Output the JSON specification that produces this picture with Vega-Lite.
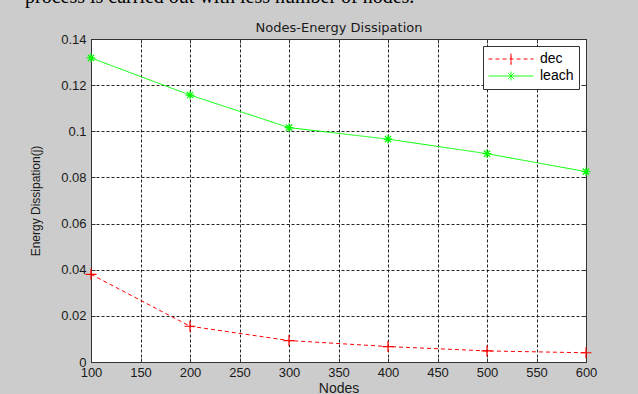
{
  "$schema": "https://vega.github.io/schema/vega-lite/v6.json",
  "autosize": "none",
  "width": 495,
  "height": 323,
  "padding": {"left": 91, "top": 39, "right": 52, "bottom": 32},
  "background": "#cccccc",
  "title": {
    "text": "process is carried out with less number of nodes.",
    "font": "Liberation Serif",
    "fontSize": 20,
    "fontWeight": "normal",
    "color": "#000000",
    "anchor": "start",
    "frame": "group",
    "baseline": "alphabetic",
    "dx": -66,
    "offset": -1
  },
  "config": {
    "view": {"fill": "#ffffff", "stroke": "#333333", "strokeWidth": 1},
    "axis": {
      "labelFont": "Liberation Sans",
      "labelFontSize": 13,
      "labelColor": "#1a1a1a",
      "titleFont": "Liberation Sans",
      "titleColor": "#1a1a1a",
      "titleFontWeight": "normal",
      "domainColor": "#333333",
      "domainWidth": 1,
      "tickColor": "#333333",
      "tickWidth": 1
    }
  },
  "data": {
    "values": [
      {"series": "dec", "n": 100, "e": 0.038},
      {"series": "dec", "n": 200, "e": 0.0155},
      {"series": "dec", "n": 300, "e": 0.0093},
      {"series": "dec", "n": 400, "e": 0.0067},
      {"series": "dec", "n": 500, "e": 0.0048},
      {"series": "dec", "n": 600, "e": 0.004},
      {"series": "leach", "n": 100, "e": 0.1318},
      {"series": "leach", "n": 200, "e": 0.1157},
      {"series": "leach", "n": 300, "e": 0.1016},
      {"series": "leach", "n": 400, "e": 0.0966},
      {"series": "leach", "n": 500, "e": 0.0903},
      {"series": "leach", "n": 600, "e": 0.0825}
    ]
  },
  "resolve": {
    "scale": {"color": "independent", "shape": "independent", "strokeDash": "independent"},
    "axis": {"x": "independent", "y": "independent"}
  },
  "layer": [
    {
      "encoding": {
        "x": {
          "field": "n", "type": "quantitative",
          "scale": {"domain": [100, 600], "nice": false, "zero": false},
          "axis": {
            "orient": "bottom",
            "values": [100, 150, 200, 250, 300, 350, 400, 450, 500, 550, 600],
            "title": "Nodes",
            "titleFontSize": 14,
            "titlePadding": 2,
            "tickSize": -4,
            "labelPadding": 8,
            "labelFlush": false,
            "grid": true,
            "gridColor": "#000000",
            "gridOpacity": 0.85,
            "gridDash": [3, 2],
            "gridWidth": 1
          }
        },
        "y": {
          "field": "e", "type": "quantitative",
          "scale": {"domain": [0, 0.14], "nice": false},
          "axis": {
            "orient": "left",
            "values": [0, 0.02, 0.04, 0.06, 0.08, 0.1, 0.12, 0.14],
            "format": "~g",
            "title": "Energy Dissipation(j)",
            "titleFontSize": 12,
            "titlePadding": 18,
            "tickSize": -4,
            "labelPadding": 9,
            "labelFlush": false,
            "grid": true,
            "gridColor": "#000000",
            "gridOpacity": 0.85,
            "gridDash": [3, 2],
            "gridWidth": 1
          }
        }
      },
      "layer": [
        {
          "mark": {"type": "line", "strokeWidth": 1},
          "encoding": {
            "color": {
              "field": "series", "type": "nominal",
              "scale": {"domain": ["dec", "leach"], "range": ["#ff0000", "#00ff00"]},
              "legend": null
            },
            "strokeDash": {
              "field": "series", "type": "nominal",
              "scale": {"domain": ["dec", "leach"], "range": [[4, 3], [1, 0]]},
              "legend": null
            }
          }
        },
        {
          "mark": {"type": "point", "filled": false, "strokeWidth": 1.2, "size": 121, "opacity": 1},
          "encoding": {
            "color": {
              "field": "series", "type": "nominal",
              "scale": {"domain": ["dec", "leach"], "range": ["#ff0000", "#00ff00"]},
              "legend": null
            },
            "shape": {
              "field": "series", "type": "nominal",
              "scale": {
                "domain": ["dec", "leach"],
                "range": [
                  "M-1,0L1,0M0,-1L0,1",
                  "M-0.8,0L0.8,0M0,-0.8L0,0.8M-0.57,-0.57L0.57,0.57M-0.57,0.57L0.57,-0.57"
                ]
              },
              "legend": null
            }
          }
        }
      ]
    },
    {
      "transform": [{"filter": "false"}],
      "mark": {"type": "point", "filled": false, "strokeWidth": 1, "size": 2025, "opacity": 1},
      "encoding": {
        "x": {
          "field": "n", "type": "quantitative",
          "scale": {"domain": [100, 600], "nice": false, "zero": false},
          "axis": {
            "orient": "top",
            "values": [100, 150, 200, 250, 300, 350, 400, 450, 500, 550, 600],
            "labels": false,
            "tickSize": -4,
            "grid": false,
            "title": "Nodes-Energy Dissipation",
            "titleFont": "DejaVu Sans",
            "titleFontSize": 13,
            "titlePadding": 4
          }
        },
        "y": {
          "field": "e", "type": "quantitative",
          "scale": {"domain": [0, 0.14], "nice": false},
          "axis": {
            "orient": "right",
            "values": [0, 0.02, 0.04, 0.06, 0.08, 0.1, 0.12, 0.14],
            "labels": false,
            "tickSize": -4,
            "grid": false,
            "title": null
          }
        },
        "color": {
          "field": "series", "type": "nominal",
          "scale": {"domain": ["dec", "leach"], "range": ["#ff0000", "#00ff00"]},
          "legend": {
            "title": null,
            "orient": "top-right",
            "offset": 7,
            "fillColor": "#ffffff",
            "strokeColor": "#333333",
            "padding": 5,
            "clipHeight": 16,
            "symbolSize": 2025,
            "symbolStrokeWidth": 1,
            "labelFont": "Liberation Sans",
            "labelFontSize": 14,
            "labelColor": "#000000",
            "labelOffset": 6,
            "rowPadding": 1
          }
        },
        "shape": {
          "field": "series", "type": "nominal",
          "scale": {
            "domain": ["dec", "leach"],
            "range": [
              "M-1,0L1,0M0,-0.244L0,0.244M0,-0.111L0,0.244",
              "M-1,0L1,0M0,-0.196L0,0.196M-0.14,-0.14L0.14,0.14M-0.14,0.14L0.14,-0.14"
            ]
          },
          "legend": {
            "title": null,
            "orient": "top-right",
            "offset": 7,
            "fillColor": "#ffffff",
            "strokeColor": "#333333",
            "padding": 5,
            "clipHeight": 16,
            "symbolSize": 2025,
            "symbolStrokeWidth": 1,
            "labelFont": "Liberation Sans",
            "labelFontSize": 14,
            "labelColor": "#000000",
            "labelOffset": 6,
            "rowPadding": 1
          }
        },
        "strokeDash": {
          "field": "series", "type": "nominal",
          "scale": {"domain": ["dec", "leach"], "range": [[4, 3], [1, 0]]},
          "legend": {
            "title": null,
            "orient": "top-right",
            "offset": 7,
            "fillColor": "#ffffff",
            "strokeColor": "#333333",
            "padding": 5,
            "clipHeight": 16,
            "symbolSize": 2025,
            "symbolStrokeWidth": 1,
            "labelFont": "Liberation Sans",
            "labelFontSize": 14,
            "labelColor": "#000000",
            "labelOffset": 6,
            "rowPadding": 1
          }
        }
      }
    }
  ]
}
